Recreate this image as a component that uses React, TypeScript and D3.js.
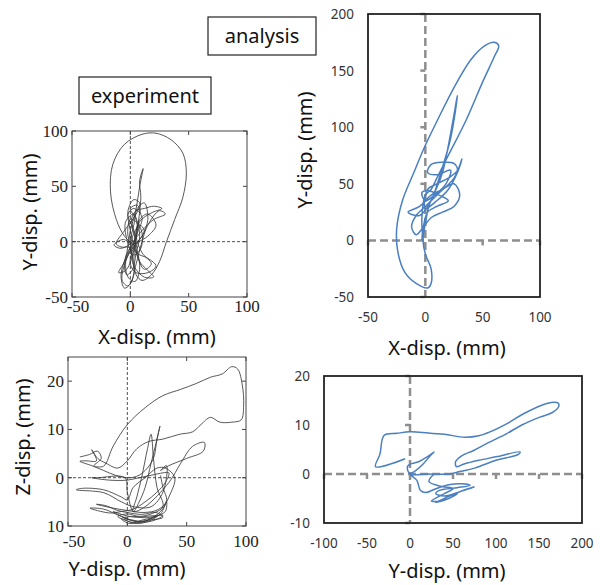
import { useRef, useEffect } from "react";
import * as d3 from "d3";

// experiment, X-Y (mm)
const expXY = [
  [5, -5], [-5, 5], [-12, 20], [-17, 45], [-15, 70], [-5, 88], [10, 97], [22, 98], [35, 92], [45, 80],
  [48, 62], [45, 40], [38, 20], [31, 0], [25, -18], [18, -30], [10, -35], [5, -30], [3, -15], [6, 10],
  [9, 40], [8, 55], [11, 66], [8, 50], [5, 30], [0, 10], [-3, -10], [-8, -30], [-5, -42], [0, -38],
  [5, -20], [10, 0], [15, 15], [25, 28], [30, 25], [20, 20], [10, 10], [2, 0], [-5, -5], [-12, -2],
  [-5, 10], [5, 25], [8, 35], [3, 38], [-2, 28], [0, 10], [5, -10], [12, -25], [18, -20], [10, -10],
  [5, 5], [8, 20], [15, 25], [22, 15], [15, 5], [5, -2], [-3, -15], [-7, -35], [-2, -40], [3, -30],
  [2, -15], [0, 0], [3, 15], [6, 30], [12, 35], [15, 20], [10, 5], [3, -5], [0, -20], [5, -28],
  [15, -28], [22, -22], [15, -15], [5, -10], [-2, 5], [0, 20], [5, 18], [8, 5], [5, -10], [2, -25],
  [-3, -30], [-5, -20], [0, -5], [8, 2], [12, 10], [8, 15], [2, 5], [0, -5], [-4, -18], [-2, -32],
  [4, -36], [8, -25], [6, -8], [2, 12], [-2, 25], [3, 30], [10, 22], [6, 8], [0, -8], [-6, -20],
  [-10, -28], [-4, -26], [2, -12], [4, 5], [1, 20], [5, 28], [12, 30], [20, 32], [27, 30], [18, 26],
  [8, 18], [4, 0], [8, -18], [14, -25], [20, -32], [12, -32], [3, -22], [-1, -5], [-9, -6], [-14, -3],
  [-6, 2], [2, -2], [6, 12], [3, 25], [-4, 18], [-3, 2], [3, -12], [9, -6], [10, 8], [4, 22],
  [0, 30], [6, 33], [9, 25]
];

// experiment, Y-Z (mm)
const expYZ = [
  [-40, 4.3], [-32, 4.8], [-25, 5.5], [-22, 4], [-28, 2.5], [-20, 2.4], [-12, 6.5], [0, 11], [15, 14.5], [30, 17],
  [45, 18.3], [58, 19.5], [70, 20.8], [80, 21.5], [88, 23], [93, 22.5], [97, 19], [98, 15], [96, 12], [88, 11.5],
  [78, 11.5], [70, 12.5], [62, 11], [55, 9.5], [44, 9], [30, 8], [18, 7.5], [8, 6], [0, 3.5], [-8, 2],
  [-18, 3], [-25, 4], [-30, 5.8], [-26, 3.5], [-35, 3.5], [-40, 3.4], [-30, 2.5], [-20, 1.5], [-10, 0.5], [0, 0],
  [8, 0.3], [15, 1.5], [22, 4], [25, 8], [27.5, 10.7], [26, 9], [20, 3], [15, -2], [10, -5], [5, -7],
  [0, -3], [-2, 0], [-25, 0], [-30, 0], [-15, -0.5], [0, -0.5], [10, 0], [20, 0.5], [30, 1], [35, 1],
  [32, -1], [25, -3], [15, -5], [5, -6.5], [-5, -7], [-15, -7.3], [-31.5, -6.3], [-20, -6.5], [-10, -7.5], [0, -8.5],
  [10, -9.2], [20, -8.5], [28, -7.5], [33, -5], [32, -7], [22, -8.2], [12, -8.8], [2, -9.5], [-5, -8.5], [5, -8],
  [15, -8.3], [25, -8], [18, -9], [8, -9.5], [0, -9], [-8, -8], [0, -7.5], [10, -8], [20, -7.5], [30, -6],
  [25, -2], [22, 4], [20, 9], [17, 6], [12, 0], [8, -4], [5, -7], [15, -6], [35, -1], [45, 3],
  [55, 6.5], [65, 7.3], [64, 5.5], [50, 4], [35, 2.5], [28, 1.5], [33, 2.5], [30, -3], [20, -6], [5, -6],
  [-5, -5], [-20, -3.1], [-43, -2.5], [-38, -2.2], [-20, -2.5], [-5, -4], [0, -4.6], [5, -2], [15, 0], [25, 2],
  [32, 2], [40, 0], [35, -4], [28, -7], [15, -9], [5, -9.3], [-3, -8.5], [5, -8.8], [15, -9.2], [25, -8.6],
  [30, -7.8], [20, -7.9], [8, -8.2], [-2, -7.8], [-12, -7], [-5, -8], [6, -9], [18, -8.8], [30, -8.2], [24, -7.2],
  [12, -7.6], [0, -7.2], [-8, -6.8], [-18, -5.8], [-26, -5.5], [-14, -6.2], [0, -6.8], [14, -7.2], [26, -6.6], [33, -4.8],
  [30, -2], [28, 0.5]
];

// analysis, X-Y (mm)
const anaXY = [
  [-2, 0], [-3, 20], [0, 40], [5, 45], [10, 55], [20, 75], [35, 105], [50, 140], [60, 162], [64, 172],
  [60, 175], [52, 172], [40, 160], [25, 135], [10, 105], [0, 84], [-10, 60], [-20, 35], [-25, 10], [-24, -10],
  [-18, -28], [-8, -38], [2, -42], [5, -38], [5, -25], [0, -12], [-2, 0], [0, 15], [3, 30], [8, 42],
  [15, 60], [28, 128], [22, 90], [12, 55], [5, 35], [-5, 22], [-15, 25], [-5, 30], [5, 40], [15, 45],
  [25, 50], [30, 40], [25, 30], [15, 25], [5, 20], [-3, 10], [-8, 5], [-12, 12], [-8, 22], [0, 30],
  [10, 40], [25, 55], [32, 72], [28, 60], [20, 45], [10, 35], [0, 28], [2, 45], [10, 50], [20, 55],
  [28, 62], [25, 68], [15, 69], [5, 67], [2, 60], [10, 58], [22, 62], [18, 50], [8, 40], [0, 35],
  [-3, 42], [2, 44], [12, 40], [20, 35], [10, 30], [2, 25], [-2, 10], [-3, 0]
];

// analysis, Y-Z (mm)
const anaYZ = [
  [-5.7, 3.1], [-40, 1.5], [-35, 4], [-30, 7.9], [-15, 8.3], [0, 8.6], [20, 8.4], [40, 8.1], [64, 7.5], [80, 7.8],
  [93, 8.6], [115, 10.5], [132, 12.3], [159, 14.4], [172, 14.5], [173, 13.8], [165, 12.5], [151, 11.6], [130, 10], [112, 8.2],
  [90, 6.3], [74, 4.8], [60, 3.7], [53, 2.5], [54, 1.5], [62, 2], [80, 2.8], [100, 3.5], [128, 4.5], [126, 4],
  [100, 2.8], [75, 1.2], [58, 0.5], [45, 0], [20, 0], [0, 0], [-3, 1.5], [0, 2], [10, 2.5], [20, 3.5],
  [28, 4.5], [25, 4], [15, 2], [5, 0.5], [0, 0], [8, -1.3], [12, -3.3], [18, -3.8], [30, -3], [45, -2.2],
  [60, -2], [70, -2.3], [55, -2.8], [35, -3.3], [30, -4], [40, -4.5], [60, -3.5], [75, -2.6], [55, -3.8], [40, -5],
  [30, -5.8], [45, -5], [55, -4], [45, -4.5], [35, -5.5], [25, -5.5], [40, -4], [50, -3], [35, -2.5], [22, -1.5],
  [28, 0]
];

const expTicksX = [-50, 0, 50, 100];
const expXYTicksY = [-50, 0, 50, 100];
const expYZTicksY = [-10, 0, 10, 20];
const expYZTickLabelsY = ["10", "0", "10", "20"];
const anaXYTicksX = [-50, 0, 50, 100];
const anaXYTicksY = [-50, 0, 50, 100, 150, 200];
const anaYZTicksX = [-100, -50, 0, 50, 100, 150, 200];
const anaYZTicksY = [-10, 0, 10, 20];

const SANS = "'Noto Sans', 'Open Sans', sans-serif";
const SERIF = "'Liberation Serif', 'DejaVu Serif', serif";

export default function App() {
  const ref = useRef<SVGSVGElement>(null);

  useEffect(() => {
    const svg = d3.select(ref.current);
    svg.selectAll("*").remove();

    function title(text, x, y, rotate = false) {
      svg.append("text")
        .attr("transform", rotate ? `translate(${x},${y}) rotate(-90)` : `translate(${x},${y})`)
        .attr("text-anchor", "middle")
        .attr("font-family", SANS)
        .attr("font-size", 20)
        .attr("fill", "#111")
        .text(text);
    }

    function labelBox(text, x, y, w, h) {
      svg.append("rect")
        .attr("x", x).attr("y", y).attr("width", w).attr("height", h)
        .attr("fill", "#fff").attr("stroke", "#222").attr("stroke-width", 1.2);
      svg.append("text")
        .attr("x", x + w / 2).attr("y", y + h / 2 + 7)
        .attr("text-anchor", "middle")
        .attr("font-family", SANS)
        .attr("font-size", 20)
        .attr("fill", "#111")
        .text(text);
    }

    function experimentPanel(o) {
      const x = d3.scaleLinear().domain(o.xd).range([o.x0, o.x1]);
      const y = d3.scaleLinear().domain(o.yd).range([o.y1, o.y0]);
      const g = svg.append("g");

      // zero lines
      g.append("line").attr("x1", x(0)).attr("x2", x(0)).attr("y1", o.y0).attr("y2", o.y1)
        .attr("stroke", "#222").attr("stroke-width", 0.8).attr("stroke-dasharray", "3,2");
      g.append("line").attr("x1", o.x0).attr("x2", o.x1).attr("y1", y(0)).attr("y2", y(0))
        .attr("stroke", "#222").attr("stroke-width", 0.8).attr("stroke-dasharray", "3,2");

      const line = d3.line().x(d => x(d[0])).y(d => y(d[1])).curve(d3.curveCatmullRom.alpha(0.5));
      g.append("path").attr("d", line(o.data))
        .attr("fill", "none").attr("stroke", "#3a3a3a").attr("stroke-width", 0.85);

      // inward ticks on all four sides
      o.tx.forEach(t => {
        g.append("line").attr("x1", x(t)).attr("x2", x(t)).attr("y1", o.y1).attr("y2", o.y1 - 4).attr("stroke", "#444");
        g.append("line").attr("x1", x(t)).attr("x2", x(t)).attr("y1", o.y0).attr("y2", o.y0 + 4).attr("stroke", "#444");
        g.append("text").attr("x", x(t) + (t < 0 ? 6 : 0)).attr("y", o.y1 + o.xOff)
          .attr("text-anchor", "middle").attr("font-family", SERIF).attr("font-size", 17).attr("fill", "#222")
          .text(t);
      });
      o.ty.forEach((t, i) => {
        g.append("line").attr("x1", o.x0).attr("x2", o.x0 + 4).attr("y1", y(t)).attr("y2", y(t)).attr("stroke", "#444");
        g.append("line").attr("x1", o.x1).attr("x2", o.x1 - 4).attr("y1", y(t)).attr("y2", y(t)).attr("stroke", "#444");
        g.append("text").attr("x", o.x0 - 4).attr("y", y(t) + 6)
          .attr("text-anchor", "end").attr("font-family", SERIF).attr("font-size", 17).attr("fill", "#222")
          .text(o.tyLabels ? o.tyLabels[i] : t);
      });

      g.append("rect").attr("x", o.x0).attr("y", o.y0).attr("width", o.x1 - o.x0).attr("height", o.y1 - o.y0)
        .attr("fill", "none").attr("stroke", "#444").attr("stroke-width", 1);
    }

    function analysisPanel(o) {
      const x = d3.scaleLinear().domain(o.xd).range([o.x0, o.x1]);
      const y = d3.scaleLinear().domain(o.yd).range([o.y1, o.y0]);
      const g = svg.append("g");
      const grey = "#8e8e8e";

      g.append("line").attr("x1", x(0)).attr("x2", x(0)).attr("y1", o.y0).attr("y2", o.y1)
        .attr("stroke", grey).attr("stroke-width", 2.5).attr("stroke-dasharray", "8,4");
      g.append("line").attr("x1", o.x0).attr("x2", o.x1).attr("y1", y(0)).attr("y2", y(0))
        .attr("stroke", grey).attr("stroke-width", 2.5).attr("stroke-dasharray", "8,4");

      // ticks on the zero axes
      o.tx.filter(t => t !== 0).forEach(t => {
        g.append("line").attr("x1", x(t)).attr("x2", x(t)).attr("y1", y(0)).attr("y2", y(0) + 5)
          .attr("stroke", grey).attr("stroke-width", 2.5);
      });
      o.ty.filter(t => t !== 0).forEach(t => {
        g.append("line").attr("x1", x(0)).attr("x2", x(0) - 5).attr("y1", y(t)).attr("y2", y(t))
          .attr("stroke", grey).attr("stroke-width", 2.5);
      });

      const line = d3.line().x(d => x(d[0])).y(d => y(d[1])).curve(d3.curveCatmullRom.alpha(0.5));
      g.append("path").attr("d", line(o.data))
        .attr("fill", "none").attr("stroke", "#4a7fc1").attr("stroke-width", 1.5);

      g.append("rect").attr("x", o.x0).attr("y", o.y0).attr("width", o.x1 - o.x0).attr("height", o.y1 - o.y0)
        .attr("fill", "none").attr("stroke", "#222").attr("stroke-width", 1.8);

      o.tx.forEach(t => {
        g.append("text").attr("x", x(t)).attr("y", o.y1 + 25)
          .attr("text-anchor", "middle").attr("font-family", SANS).attr("font-size", 13.5).attr("fill", "#333")
          .text(t);
      });
      o.ty.forEach(t => {
        g.append("text").attr("x", o.x0 - 14).attr("y", y(t) + 5)
          .attr("text-anchor", "end").attr("font-family", SANS).attr("font-size", 13.5).attr("fill", "#333")
          .text(t);
      });
    }

    experimentPanel({
      x0: 72, x1: 247, y0: 131, y1: 297, xd: [-50, 100], yd: [-50, 100],
      tx: expTicksX, ty: expXYTicksY, data: expXY, xOff: 15
    });
    experimentPanel({
      x0: 68, x1: 246, y0: 357, y1: 526, xd: [-50, 100], yd: [-10, 25],
      tx: expTicksX, ty: expYZTicksY, tyLabels: expYZTickLabelsY, data: expYZ, xOff: 21
    });
    analysisPanel({
      x0: 368, x1: 540, y0: 14, y1: 297, xd: [-50, 100], yd: [-50, 200],
      tx: anaXYTicksX, ty: anaXYTicksY, data: anaXY
    });
    analysisPanel({
      x0: 324, x1: 582, y0: 376, y1: 523, xd: [-100, 200], yd: [-10, 20],
      tx: anaYZTicksX, ty: anaYZTicksY, data: anaYZ
    });

    title("X-disp. (mm)", 157, 344);
    title("Y-disp. (mm)", 37, 212, true);
    title("X-disp. (mm)", 447, 355);
    title("Y-disp. (mm)", 312, 150, true);
    title("Y-disp. (mm)", 127, 576);
    title("Z-disp. (mm)", 30, 437, true);
    title("Y-disp. (mm)", 447, 578);

    labelBox("experiment", 79, 77, 132, 37);
    labelBox("analysis", 208, 17, 108, 38);
  }, []);

  return (
    <svg ref={ref} width={600} height={585}
      style={{ position: "absolute", left: 0, top: 0, background: "#fff" }} />
  );
}
